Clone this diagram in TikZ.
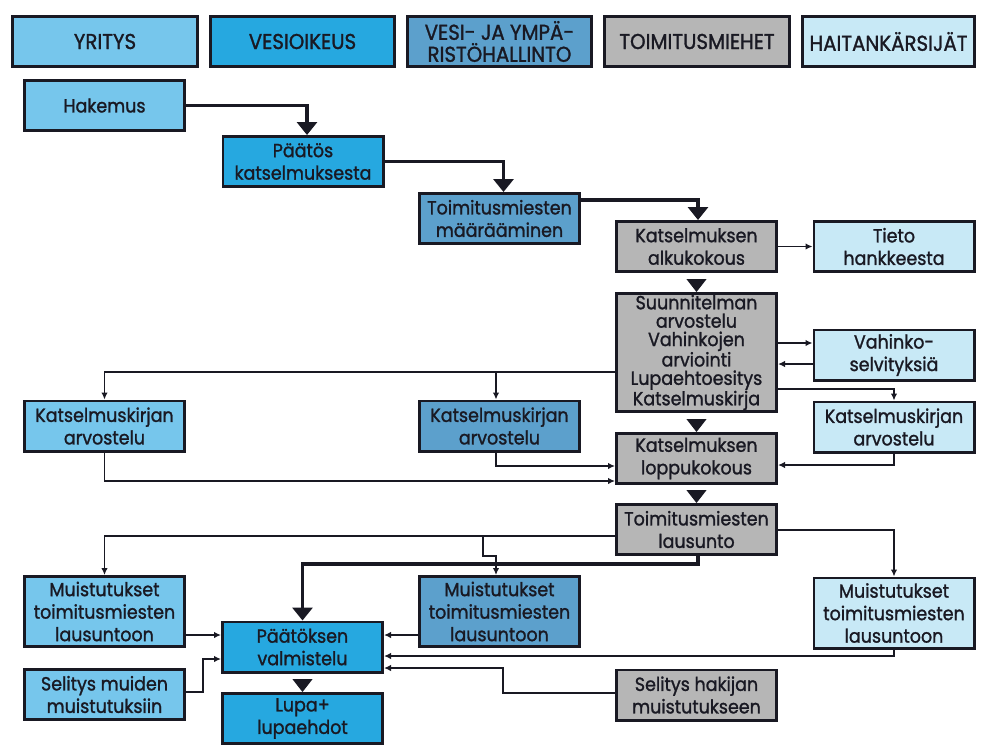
\documentclass[tikz,border=0pt]{standalone}
\usepackage{fontspec}
\setmainfont{Poppins}[FakeStretch=0.92,BoldFont={Poppins},BoldFeatures={FakeBold=1.3}]
\usetikzlibrary{arrows.meta}
\definecolor{ink}{RGB}{25,25,35}
\definecolor{cyr}{RGB}{118,198,236}
\definecolor{cves}{RGB}{38,168,224}
\definecolor{cymp}{RGB}{92,160,204}
\definecolor{ctoi}{RGB}{182,182,182}
\definecolor{chai}{RGB}{200,233,246}
\begin{document}
\begin{tikzpicture}[x=1pt,y=-1pt,
  box/.style={draw=ink, line width=2.6pt, inner sep=0pt, align=center, text=ink,
    font=\fontsize{19}{22.5}\selectfont\bfseries, minimum width=160.4pt, minimum height=50.4pt},
  head/.style={box, minimum height=50.4pt, font=\fontsize{21.5}{22}\selectfont\bfseries},
  conn/.style={draw=ink, line width=1.9pt, -{Latex[length=7pt,width=6.5pt]}},
  heavy/.style={draw=ink, line width=3.2pt, -{Triangle[width=20pt,length=13pt]}},
  gapar/.style={draw=ink, line width=1pt, shorten <=7pt, -{Triangle[width=20pt,length=13pt]}}]
\useasboundingbox[fill=white] (0,0) rectangle (988,753);

% headers
\node[head, fill=cyr, minimum width=185.4pt] (hyr) at (105,41.5) {YRITYS};
\node[head, fill=cves, minimum width=184.4pt] (hves) at (302.5,41.5) {VESIOIKEUS};
\node[head, fill=cymp, minimum width=184.4pt] (hymp) at (499.5,41.5) {VESI- JA YMPÄ-\\RISTÖHALLINTO};
\node[head, fill=ctoi, minimum width=185.4pt] (htoi) at (697,41.5) {TOIMITUSMIEHET};
\node[head, fill=chai, minimum width=172.4pt] (hhai) at (888.5,41.5) {HAITANKÄRSIJÄT};

% body boxes
\node[box, fill=cyr] (hak) at (104.5,105.5) {Hakemus};
\node[box, fill=cves] (pk) at (303,161.5) {Päätös\\katselmuksesta};
\node[box, fill=cymp] (toim) at (499.5,218.5) {Toimitusmiesten\\määrääminen};
\node[box, fill=ctoi] (alku) at (696.5,246.5) {Katselmuksen\\alkukokous};
\node[box, fill=chai] (tieto) at (894,246.5) {Tieto\\hankkeesta};
\node[box, fill=ctoi, minimum height=118.4pt, font=\fontsize{19}{18.4}\selectfont\bfseries] (suun) at (696.5,352.5)
  {Suunnitelman\\arvostelu\\Vahinkojen\\arviointi\\Lupaehtoesitys\\Katselmuskirja};
\node[box, fill=chai] (vah) at (894,355) {Vahinko-\\selvityksiä};
\node[box, fill=chai] (katR) at (894,427) {Katselmuskirjan\\arvostelu};
\node[box, fill=cyr] (katL) at (104.5,426) {Katselmuskirjan\\arvostelu};
\node[box, fill=cymp] (katM) at (499.5,426) {Katselmuskirjan\\arvostelu};
\node[box, fill=ctoi] (lopp) at (696.5,458.5) {Katselmuksen\\loppukokous};
\node[box, fill=ctoi] (laus) at (696.5,529.5) {Toimitusmiesten\\lausunto};
\node[box, fill=cyr, minimum height=70.4pt] (mL) at (104.5,611.5) {Muistutukset\\toimitusmiesten\\lausuntoon};
\node[box, fill=cymp, minimum height=70.4pt] (mM) at (499.5,611.5) {Muistutukset\\toimitusmiesten\\lausuntoon};
\node[box, fill=chai, minimum height=70.4pt] (mR) at (894,613) {Muistutukset\\toimitusmiesten\\lausuntoon};
\node[box, fill=cves] (pv) at (302.5,647) {Päätöksen\\valmistelu};
\node[box, fill=cves] (lupa) at (302.5,718.5) {Lupa+\\lupaehdot};
\node[box, fill=cyr] (selM) at (104.5,694.5) {Selitys muiden\\muistutuksiin};
\node[box, fill=ctoi] (selH) at (696.5,695) {Selitys hakijan\\muistutukseen};

\coordinate (j1) at (483,536);

% main flow
\draw[heavy] (hak.east) -| ([xshift=4pt]pk.north);
\draw[heavy] (pk.east) -| ([xshift=4pt]toim.north);
\draw[heavy] ([yshift=-8pt]toim.north east) -| ([xshift=1.5pt]alku.north);
\draw[conn] (alku.east) -- (tieto.west);
\draw[gapar] (alku.south) -- (suun.north);
\draw[conn] (suun.east |- 0,343) -- (vah.west |- 0,343);
\draw[conn] (vah.west |- 0,364) -- (suun.east |- 0,364);
\draw[conn] (suun.east |- 0,389) -| (katR.north);
\draw[conn] (suun.west |- 0,372) -| (katL.north);
\draw[conn] ([xshift=-3.5pt]katM.north |- 0,372) -- ([xshift=-3.5pt]katM.north);
\draw[gapar] (suun.south) -- (lopp.north);
\draw[conn] ([xshift=-3.5pt]katM.south) |- (lopp.west |- 0,466);
\draw[conn] (katL.south) |- (lopp.west |- 0,481);
\draw[conn] (katR.south) |- (lopp.east |- 0,465);
\draw[gapar] (lopp.south) -- (laus.north);
\draw[conn] (laus.west |- 0,536) -| (mL.north);
\draw[conn] (j1) -- (483,556) -- ([xshift=-3.5pt]mM.north |- 0,556) -- ([xshift=-3.5pt]mM.north);
\draw[conn] (laus.east |- 0,530) -| (mR.north);
\draw[heavy] ([xshift=1.5pt]laus.south) -- ([xshift=1.5pt]laus.south |- 0,564) -| (pv.north);
\draw[conn] (mL.east |- 0,635) -- (pv.west |- 0,635);
\draw[conn] (selM.east |- 0,692) -- (203,692) -- (203,659) -- (pv.west |- 0,659);
\draw[conn] (mM.west |- 0,635) -- (pv.east |- 0,635);
\draw[conn] (mR.south) |- (pv.east |- 0,656);
\draw[conn] (selH.west |- 0,693) -- (503,693) -- (503,668) -- (pv.east |- 0,668);
\draw[gapar] (pv.south) -- (lupa.north);
\end{tikzpicture}
\end{document}
